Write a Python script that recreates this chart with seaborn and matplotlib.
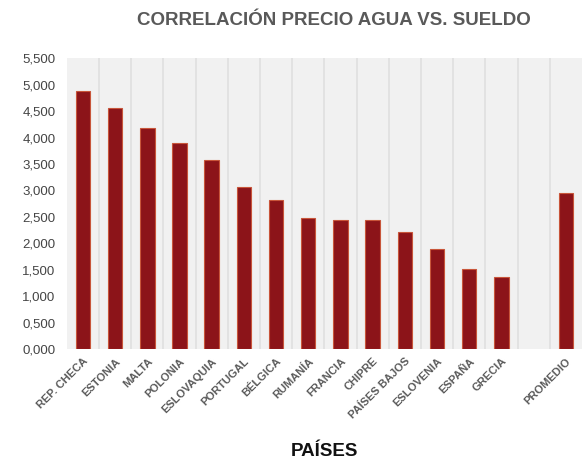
import numpy as np
import pandas as pd
import matplotlib
matplotlib.use('Agg')
import matplotlib.pyplot as plt
from matplotlib.ticker import FuncFormatter, MultipleLocator
import seaborn as sns

# data
paises = ['REP. CHECA', 'ESTONIA', 'MALTA', 'POLONIA', 'ESLOVAQUIA', 'PORTUGAL',
          'BÉLGICA', 'RUMANÍA', 'FRANCIA', 'CHIPRE', 'PAÍSES BAJOS', 'ESLOVENIA',
          'ESPAÑA', 'GRECIA', ' ', 'PROMEDIO']
valores = [4.88, 4.55, 4.18, 3.89, 3.57, 3.06, 2.82, 2.47, 2.45, 2.44, 2.22,
           1.90, 1.51, 1.37, np.nan, 2.95]

df = pd.DataFrame({'pais': paises, 'valor': valores})

sns.set_style('white')
plt.rcParams['font.family'] = ['Liberation Sans', 'DejaVu Sans']

fig = plt.figure(figsize=(5.86, 4.65), dpi=100)
ax = fig.add_axes([0.114, 0.249, 0.879, 0.626])
ax.set_facecolor('#f1f1f1')

sns.barplot(data=df, x='pais', y='valor', color='#8c1419', width=0.45,
            edgecolor='#c8553a', linewidth=0.8, saturation=1, ax=ax)

# separators between categories
for i in range(len(paises) - 1):
    ax.axvline(i + 0.5, color='#e0e0e0', lw=1.2, zorder=0)

ax.set_xlim(-0.5, len(paises) - 0.5)
ax.set_ylim(0, 5.5)
ax.yaxis.set_major_locator(MultipleLocator(0.5))
ax.yaxis.set_major_formatter(FuncFormatter(lambda v, p: f'{v:,.3f}'.replace('.', ',')))
for s in ax.spines.values():
    s.set_visible(False)

ax.tick_params(axis='y', labelsize=9.5, colors='#444444', length=0, pad=8)
ax.tick_params(axis='x', length=0, pad=5)
ax.set_xticks(range(len(paises)))
ax.set_xticklabels(paises, rotation=45, ha='right', rotation_mode='anchor',
                   fontsize=8, fontweight='bold', color='#5a5a5a')

ax.set_ylabel('')
ax.set_xlabel('PAÍSES', fontsize=13.5, fontweight='bold', color='#111111', labelpad=16)

fig.text(0.57, 0.955, 'CORRELACIÓN PRECIO AGUA VS. SUELDO', ha='center', va='center',
         fontsize=13.5, fontweight='bold', color='#595959')

fig.savefig('out.png', dpi=100)
